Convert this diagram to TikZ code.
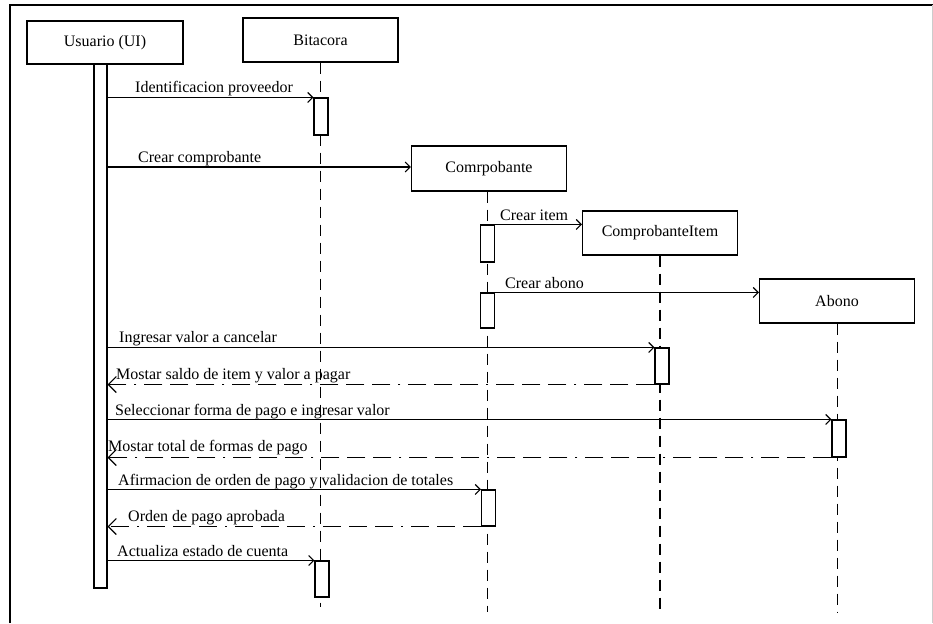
\documentclass[tikz,border=0pt]{standalone}
\usepackage{fontspec}
\setmainfont{Liberation Serif}
\usetikzlibrary{arrows.meta}
\begin{document}
\begin{tikzpicture}[x=1pt,y=-1pt,
  font=\fontsize{16}{19}\selectfont,
  obj/.style={draw, line width=1.1pt, minimum width=155pt, minimum height=44pt, inner sep=0pt, fill=white},
  act/.style={draw, line width=1.1pt, fill=white, minimum width=14pt, inner sep=0pt},
  life/.style={line width=1.1pt, dash pattern=on 11pt off 7pt},
  msg/.style={line width=1.1pt, -{Straight Barb[length=5pt,width=10pt]}},
  ret/.style={line width=1.1pt, dash pattern=on 18pt off 8pt on 18pt off 8pt on 18pt off 8pt on 2pt off 8pt, -{Straight Barb[length=8pt,width=16pt]}},
  lbl/.style={anchor=base west, inner sep=0pt}
]
\useasboundingbox (0,0) rectangle (933,623);
% frame
\draw[line width=2pt] (10,623) -- (10,5) -- (933,5);
\draw[black!20, line width=1pt] (932,5) -- (932,623);

% participants
\node[obj, minimum width=156pt, minimum height=43pt] (usr) at (105,42.5) {Usuario (UI)};
\node[obj] (bit) at (320.5,40) {Bitacora};
\node[obj, minimum height=45pt] (comp) at (489,168.5) {Comrpobante};
\node[obj] (item) at (660,233) {ComprobanteItem};
\node[obj] (abono) at (837,301) {Abono};

% lifeline ends
\coordinate (bitend) at (320.5,607);
\coordinate (compend) at (487.5,612);
\coordinate (itemend) at (660,612);
\coordinate (abonoend) at (837.5,612);

% labels
\node[lbl] (l1) at (135,93) {Identificacion proveedor};
\node[lbl] (l2) at (138,162) {Crear comprobante};
\node[lbl] (l3) at (500,220) {Crear item};
\node[lbl] (l4) at (505,288) {Crear abono};
\node[lbl] (l5) at (119,342) {Ingresar valor a cancelar};
\node[lbl] (l6) at (116,379) {Mostar saldo de item y valor a pagar};
\node[lbl] (l7) at (115,415) {Seleccionar forma de pago e ingresar valor};
\node[lbl] (l8) at (108,451) {Mostar total de formas de pago};
\node[lbl] (l9) at (118,485) {Afirmacion de orden de pago y validacion de totales};
\node[lbl] (l10) at (128,521) {Orden de pago aprobada};
\node[lbl] (l11) at (117,556) {Actualiza estado de cuenta};

% lifelines
\draw[life] (bit.south) -- (bitend);
\draw[life] (comp.south -| compend) -- (compend);
\draw[life] (item.south) -- (itemend);
\draw[life] (abono.south -| abonoend) -- (abonoend);

% activations
\node[act, minimum width=13pt, minimum height=524pt] (ua) at (100.5,326) {};
\node[act, minimum height=37pt] (a1) at (321,116.5) {};
\node[act, minimum height=37pt] (a2) at (487.5,243.5) {};
\node[act, minimum height=35pt] (a3) at (487.5,310.5) {};
\node[act, minimum height=36pt] (a4) at (662,366) {};
\node[act, minimum height=37pt] (a5) at (839,438.5) {};
\node[act, minimum height=36pt] (a6) at (488.5,508) {};
\node[act, minimum height=36pt] (a7) at (322,579) {};

% messages
\draw[msg] (ua.east |- a1.north) -- (a1.north west);
\draw[msg] (ua.east |- 0,167) -- (comp.west |- 0,167);
\draw[msg] (a2.north east) -- (a2.north east -| item.west);
\draw[msg] (a3.north east) -- (a3.north east -| abono.west);
\draw[msg] (ua.east |- a4.north) -- (a4.north west);
\draw[ret] (a4.south west) -- (ua.east |- a4.south);
\draw[msg] (ua.east |- a5.north) -- (a5.north west);
\draw[ret] (a5.south west) -- (ua.east |- a5.south);
\draw[msg] (ua.east |- a6.north) -- (a6.north west);
\draw[ret] (a6.south west) -- (ua.east |- a6.south);
\draw[msg] (ua.east |- a7.north) -- (a7.north west);
\end{tikzpicture}
\end{document}
